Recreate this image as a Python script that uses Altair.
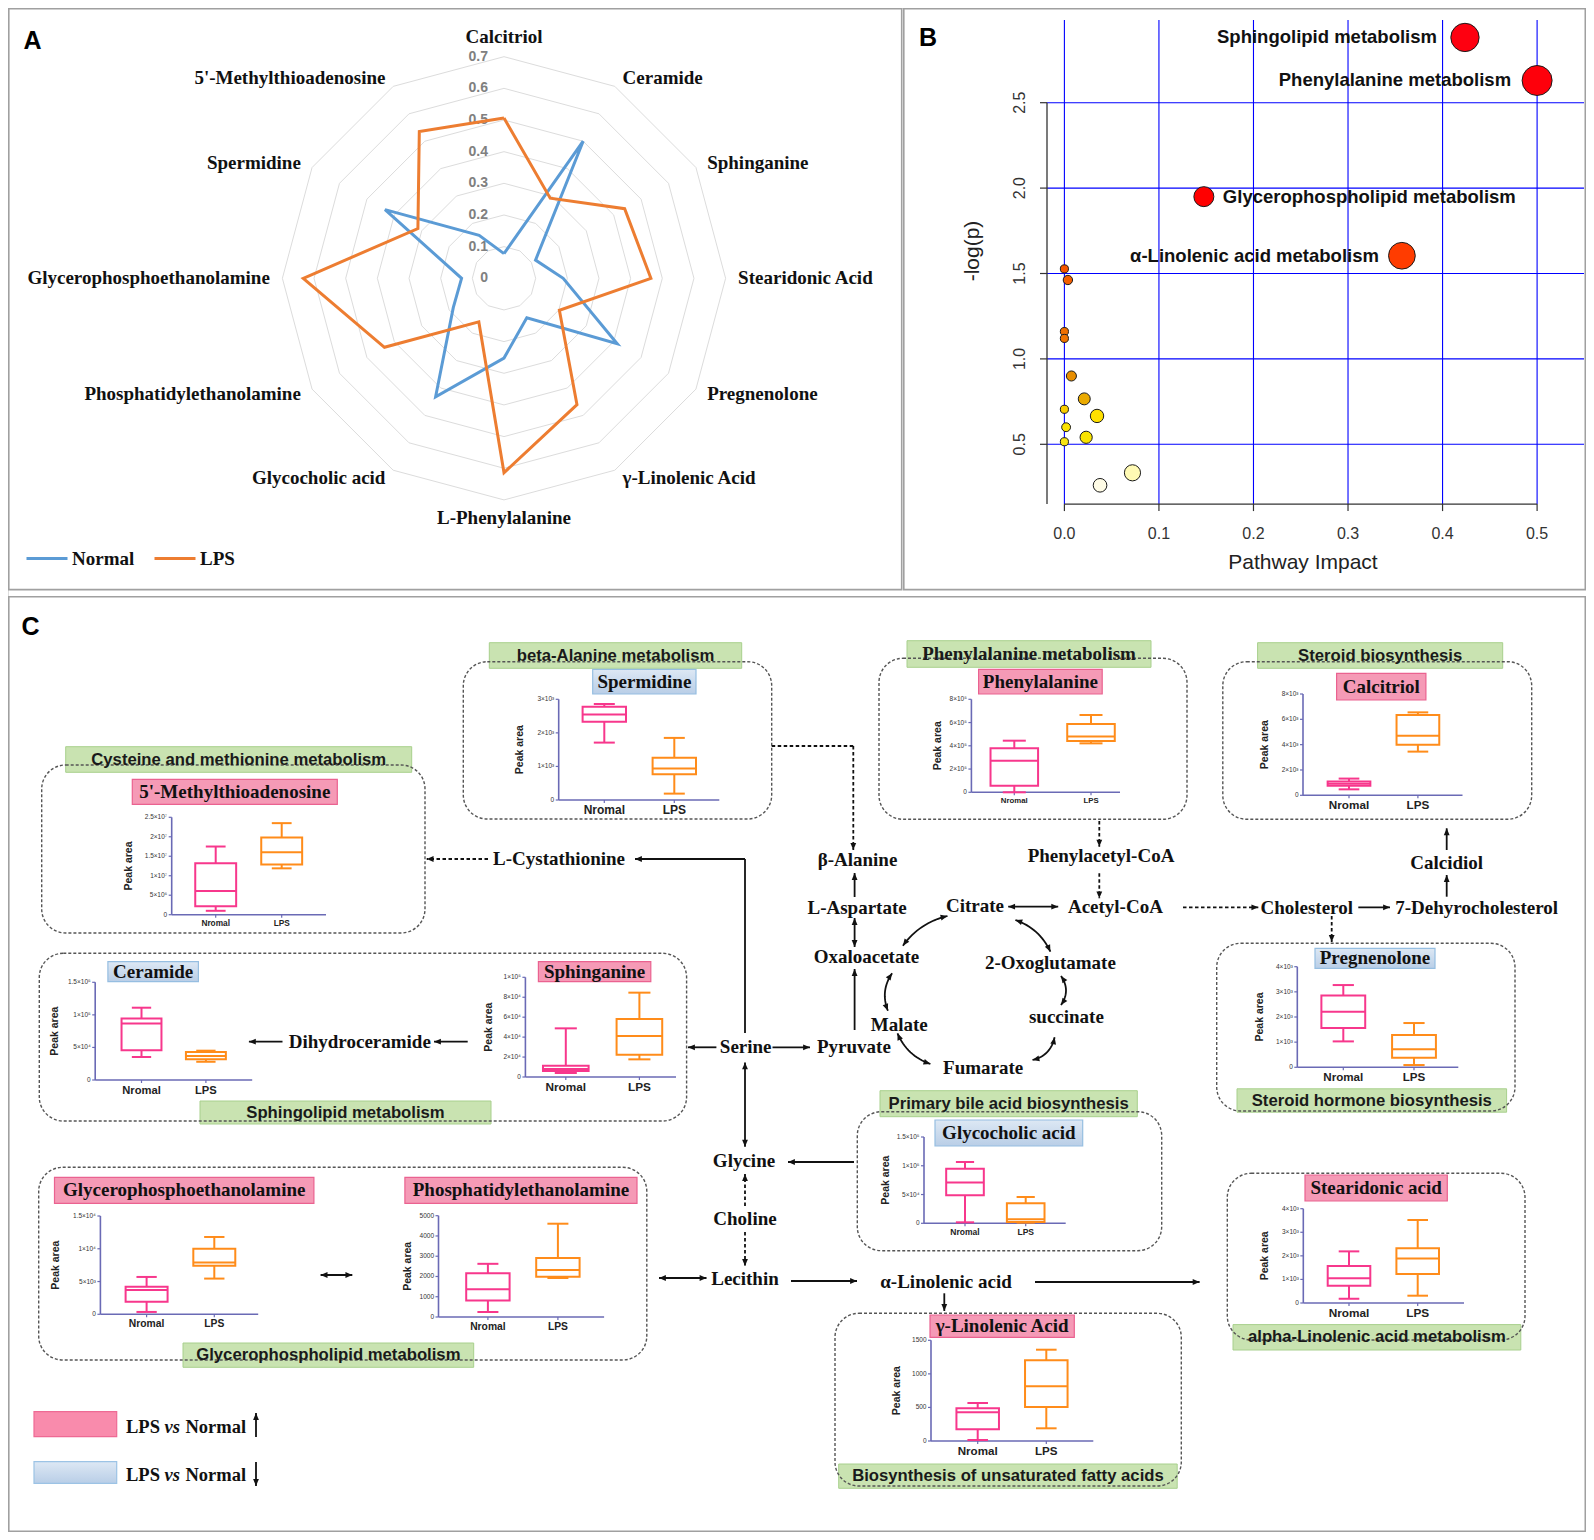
import math
import altair as alt
import pandas as pd

W, H = 1578, 1524
M = 8


def C(v):
    return v - M


SERIF = "Liberation Serif"
SANS = "Liberation Sans"
BLUE = "#5B9BD5"
ORANGE = "#ED7D31"
PINK_LINE = "#F7378C"
ORANGE_LINE = "#FF8C1A"
AXC = "#6A6AB5"

# ================= Panel A : radar data =================
RADAR_METABOLITES = ["Calcitriol", "Ceramide", "Sphinganine", "Stearidonic Acid",
                     "Pregnenolone", "γ-Linolenic Acid", "L-Phenylalanine",
                     "Glycocholic acid", "Phosphatidylethanolamine",
                     "Glycerophosphoethanolamine", "Spermidine",
                     "5'-Methylthioadenosine"]
RADAR_NORMAL = [0.078, 0.50, 0.115, 0.187, 0.413, 0.144, 0.252, 0.432, 0.185, 0.134, 0.434, 0.157]
RADAR_LPS = [0.506, 0.292, 0.44, 0.464, 0.202, 0.461, 0.614, 0.159, 0.436, 0.634, 0.314, 0.535]
RADAR_SERIES = ["Normal", "LPS"]
RADAR_TICKS = [0, 0.1, 0.2, 0.3, 0.4, 0.5, 0.6, 0.7]
RADAR_TICK_LABELS = ["0", "0.1", "0.2", "0.3", "0.4", "0.5", "0.6", "0.7"]

# ================= Panel B : pathway data =================
PATHWAY_NAMES = ["Sphingolipid metabolism", "Phenylalanine metabolism",
                 "Glycerophospholipid metabolism", "α-Linolenic acid metabolism",
                 "", "", "", "", "", "", "", "", "", "", "", "", ""]
PATHWAY_IMPACT = [0.4237, 0.50, 0.1475, 0.357, 0.0, 0.0037, 0.0, 0.0, 0.0074, 0.021,
                  0.0345, 0.0, 0.0018, 0.023, 0.0, 0.072, 0.0377]
PATHWAY_LOGP = [2.882, 2.63, 1.95, 1.604, 1.527, 1.462, 1.16, 1.12, 0.90, 0.766,
                0.666, 0.705, 0.60, 0.541, 0.515, 0.333, 0.26]
B_X_TICKS = [0.0, 0.1, 0.2, 0.3, 0.4, 0.5]
B_X_TICK_LABELS = ["0.0", "0.1", "0.2", "0.3", "0.4", "0.5"]
B_Y_TICKS = [0.5, 1.0, 1.5, 2.0, 2.5]
B_Y_TICK_LABELS = ["0.5", "1.0", "1.5", "2.0", "2.5"]

# ================= Panel C : box-plot data (min, Q1, median, Q3, max) =================
GROUPS = ["Nromal", "LPS"]

MTA_NORMAL = [0.10e7, 0.22e7, 0.61e7, 1.32e7, 1.75e7]
MTA_LPS = [1.19e7, 1.29e7, 1.60e7, 1.98e7, 2.35e7]
MTA_TICKS = [0, 0.5e7, 1.0e7, 1.5e7, 2.0e7, 2.5e7]
MTA_TICK_LABELS = ["0", "5×10⁶", "1×10⁷", "1.5×10⁷", "2×10⁷", "2.5×10⁷"]

SPD_NORMAL = [1.71e3, 2.33e3, 2.55e3, 2.78e3, 2.86e3]
SPD_LPS = [0.19e3, 0.77e3, 0.94e3, 1.26e3, 1.85e3]
SPD_TICKS = [0, 1e3, 2e3, 3e3]
SPD_TICK_LABELS = ["0", "1×10³", "2×10³", "3×10³"]

PHE_NORMAL = [0.0, 0.57e5, 2.72e5, 3.78e5, 4.44e5]
PHE_LPS = [4.21e5, 4.41e5, 4.79e5, 5.87e5, 6.65e5]
PHE_TICKS = [0, 2e5, 4e5, 6e5, 8e5]
PHE_TICK_LABELS = ["0", "2×10⁵", "4×10⁵", "6×10⁵", "8×10⁵"]

CAL_NORMAL = [0.47e3, 0.76e3, 0.92e3, 1.08e3, 1.32e3]
CAL_LPS = [3.45e3, 4.00e3, 4.71e3, 6.34e3, 6.55e3]
CAL_TICKS = [0, 2e3, 4e3, 6e3, 8e3]
CAL_TICK_LABELS = ["0", "2×10³", "4×10³", "6×10³", "8×10³"]

CER_NORMAL = [0.353e5, 0.456e5, 0.866e5, 0.944e5, 1.11e5]
CER_LPS = [0.28e5, 0.317e5, 0.37e5, 0.43e5, 0.45e5]
CER_TICKS = [0, 0.5e5, 1.0e5, 1.5e5]
CER_TICK_LABELS = ["0", "5×10⁴", "1×10⁵", "1.5×10⁵"]

SPH_NORMAL = [0.40e4, 0.60e4, 0.80e4, 1.14e4, 4.88e4]
SPH_LPS = [1.77e4, 2.24e4, 4.11e4, 5.82e4, 8.46e4]
SPH_TICKS = [0, 2e4, 4e4, 6e4, 8e4, 10e4]
SPH_TICK_LABELS = ["0", "2×10⁴", "4×10⁴", "6×10⁴", "8×10⁴", "1×10⁵"]

PRE_NORMAL = [1.03e3, 1.56e3, 2.21e3, 2.85e3, 3.27e3]
PRE_LPS = [0.09e3, 0.38e3, 0.72e3, 1.28e3, 1.76e3]
PRE_TICKS = [0, 1e3, 2e3, 3e3, 4e3]
PRE_TICK_LABELS = ["0", "1×10³", "2×10³", "3×10³", "4×10³"]

GPE_NORMAL = [0.036e4, 0.19e4, 0.37e4, 0.42e4, 0.57e4]
GPE_LPS = [0.545e4, 0.74e4, 0.79e4, 1.0e4, 1.18e4]
GPE_TICKS = [0, 0.5e4, 1.0e4, 1.5e4]
GPE_TICK_LABELS = ["0", "5×10³", "1×10⁴", "1.5×10⁴"]

PE_NORMAL = [247, 816, 1375, 2164, 2625]
PE_LPS = [1924, 1990, 2319, 2911, 4605]
PE_TICKS = [0, 1000, 2000, 3000, 4000, 5000]
PE_TICK_LABELS = ["0", "1000", "2000", "3000", "4000", "5000"]

GCA_NORMAL = [0.017e5, 0.486e5, 0.71e5, 0.95e5, 1.065e5]
GCA_LPS = [0.012e5, 0.023e5, 0.07e5, 0.347e5, 0.457e5]
GCA_TICKS = [0, 0.5e5, 1.0e5, 1.5e5]
GCA_TICK_LABELS = ["0", "5×10⁴", "1×10⁵", "1.5×10⁵"]

GLA_NORMAL = [15, 174, 427, 487, 566]
GLA_LPS = [189, 506, 814, 1202, 1360]
GLA_TICKS = [0, 500, 1000, 1500]
GLA_TICK_LABELS = ["0", "500", "1000", "1500"]

SDA_NORMAL = [0.18e3, 0.735e3, 1.05e3, 1.57e3, 2.19e3]
SDA_LPS = [0.31e3, 1.23e3, 1.89e3, 2.32e3, 3.52e3]
SDA_TICKS = [0, 1e3, 2e3, 3e3, 4e3]
SDA_TICK_LABELS = ["0", "1×10³", "2×10³", "3×10³", "4×10³"]

# ================= layout (reference pixel positions) =================
BOX_LAYOUT = [
    (MTA_NORMAL, MTA_LPS, MTA_TICKS, MTA_TICK_LABELS, dict(ax=171.7, right=326, ytop=817.3, ybot=914.7, nor=215.7, lps=281.7, cat=8.3, tx=-43)),
    (SPD_NORMAL, SPD_LPS, SPD_TICKS, SPD_TICK_LABELS, dict(ax=558.7, right=719.3, ytop=699.3, ybot=800, nor=604.3, lps=674.3, cat=12, tx=-38.7)),
    (PHE_NORMAL, PHE_LPS, PHE_TICKS, PHE_TICK_LABELS, dict(ax=971.4, right=1120, ytop=699.3, ybot=792.3, nor=1014.3, lps=1091, cat=7.8, tx=-33.4)),
    (CAL_NORMAL, CAL_LPS, CAL_TICKS, CAL_TICK_LABELS, dict(ax=1303, right=1462.5, ytop=694, ybot=795.3, nor=1349, lps=1417.9, cat=11.7, tx=-38)),
    (CER_NORMAL, CER_LPS, CER_TICKS, CER_TICK_LABELS, dict(ax=95.2, right=252.2, ytop=982.3, ybot=1080, nor=141.5, lps=205.9, cat=11.2, tx=-40)),
    (SPH_NORMAL, SPH_LPS, SPH_TICKS, SPH_TICK_LABELS, dict(ax=525.4, right=676, ytop=977.3, ybot=1077, nor=565.8, lps=639.4, cat=11.8, tx=-36.6)),
    (PRE_NORMAL, PRE_LPS, PRE_TICKS, PRE_TICK_LABELS, dict(ax=1297.3, right=1458.3, ytop=966.7, ybot=1067.3, nor=1343.3, lps=1414, cat=11.6, tx=-37.3)),
    (GPE_NORMAL, GPE_LPS, GPE_TICKS, GPE_TICK_LABELS, dict(ax=100.4, right=258.2, ytop=1216, ybot=1314.3, nor=146.6, lps=214.3, cat=10.3, tx=-44.7)),
    (PE_NORMAL, PE_LPS, PE_TICKS, PE_TICK_LABELS, dict(ax=438.5, right=604.1, ytop=1215.7, ybot=1317, nor=487.9, lps=557.9, cat=10.3, tx=-31)),
    (GCA_NORMAL, GCA_LPS, GCA_TICKS, GCA_TICK_LABELS, dict(ax=924, right=1065.7, ytop=1137, ybot=1223.3, nor=965, lps=1025.7, cat=8.5, tx=-38)),
    (GLA_NORMAL, GLA_LPS, GLA_TICKS, GLA_TICK_LABELS, dict(ax=931, right=1093.3, ytop=1340.3, ybot=1441, nor=977.7, lps=1046.3, cat=11.6, tx=-34.3)),
    (SDA_NORMAL, SDA_LPS, SDA_TICKS, SDA_TICK_LABELS, dict(ax=1303.3, right=1464, ytop=1208.7, ybot=1303, nor=1349, lps=1417.7, cat=11.8, tx=-38.3)),
]
BOX_HALF = 0.31
CAP_HALF = 0.15

# ---------- canvas helpers ----------
cx = alt.Scale(domain=[M, M + W], range=[0, W], nice=False, zero=False)
cy = alt.Scale(domain=[M, M + H], range=[0, H], nice=False, zero=False)


def XC(f):
    return alt.X(f + ":Q", scale=cx, axis=None)


def YC(f):
    return alt.Y(f + ":Q", scale=cy, axis=None)


def rect_layer(rows, **mark):
    df = pd.DataFrame(rows, columns=["x1", "y1", "x2", "y2"])
    return alt.Chart(df).mark_rect(**mark).encode(x=XC("x1"), x2="x2:Q", y=YC("y1"), y2="y2:Q")


def text_layer(rows, **mark):
    df = pd.DataFrame(rows, columns=["t", "x", "y"])
    return alt.Chart(df).mark_text(**mark).encode(x=XC("x"), y=YC("y"), text="t:N")


ARROW = "M0,0L-0.42,1L0.42,1Z"


def heading(x1, y1, x2, y2):
    return math.degrees(math.atan2(x2 - x1, -(y2 - y1))) % 360


def seg_parts(segs):
    lines, heads = [], []
    for (x1, y1, x2, y2, h) in segs:
        lines.append(dict(x1=x1, y1=y1, x2=x2, y2=y2))
        if h in ("end", "both"):
            heads.append(dict(x=x2, y=y2, ang=heading(x1, y1, x2, y2)))
        if h == "both":
            heads.append(dict(x=x1, y=y1, ang=heading(x2, y2, x1, y1)))
    return pd.DataFrame(lines), heads


# ---------- generic scale-driven axis pieces ----------
def vrule(df, xs, ys, xf, y1, y2, **mark):
    return alt.Chart(df).mark_rule(**mark).encode(
        x=alt.X(xf + ":Q", scale=xs, axis=None), y=alt.Y(y1 + ":Q", scale=ys, axis=None), y2=y2 + ":Q")


def hrule(df, xs, ys, x1, x2, yf, **mark):
    return alt.Chart(df).mark_rule(**mark).encode(
        x=alt.X(x1 + ":Q", scale=xs, axis=None), x2=x2 + ":Q", y=alt.Y(yf + ":Q", scale=ys, axis=None))


def tlayer(df, xs, ys, xf, yf, tf, **mark):
    return alt.Chart(df).mark_text(**mark).encode(
        x=alt.X(xf + ":Q", scale=xs, axis=None), y=alt.Y(yf + ":Q", scale=ys, axis=None), text=tf + ":N")


# ================= canvas background elements =================
canvas_layers = []

PANEL_BORDERS = [(8.8, 8.8, 901.7, 589.6), (903.8, 8.8, 1585.3, 589.6), (8.8, 596.7, 1585.3, 1531.3)]
canvas_layers.append(rect_layer(PANEL_BORDERS, fillOpacity=0, stroke="#A0A0A0", strokeWidth=1.6))

PANEL_LETTERS = [("A", 32.5, 40.7), ("B", 928, 37.6), ("C", 30.5, 627)]
canvas_layers.append(text_layer(PANEL_LETTERS, font=SANS, fontWeight="bold", fontSize=25,
                                color="black", align="center", baseline="middle"))

GREEN_SANS = [
    ("Cysteine and methionine metabolism", 65.7, 746.7, 411.7, 772.3),
    ("beta-Alanine metabolism", 489.3, 642.7, 741.7, 668.3),
    ("Steroid biosynthesis", 1257.6, 642.7, 1502.7, 668.3),
    ("Sphingolipid metabolism", 200, 1101, 491, 1124),
    ("Steroid hormone biosynthesis", 1237, 1088.8, 1506.6, 1112.2),
    ("Glycerophospholipid metabolism", 183, 1343, 473.7, 1367.3),
    ("Primary bile acid biosynthesis", 880, 1090.7, 1137.3, 1116.7),
    ("Biosynthesis of unsaturated fatty acids", 838.7, 1464, 1177.2, 1488.3),
    ("alpha-Linolenic acid metabolism", 1233, 1324.6, 1520.8, 1350),
]
GREEN_SERIF = [("Phenylalanine metabolism", 907, 640.7, 1151, 667.3)]
PINK_LABELS = [
    ("5'-Methylthioadenosine", 132.3, 779.3, 337.3, 804.3),
    ("Phenylalanine", 978.6, 669.3, 1102.2, 694),
    ("Calcitriol", 1336.6, 673.3, 1425.9, 700),
    ("Sphinganine", 538.4, 961.7, 650.8, 981.7),
    ("Glycerophosphoethanolamine", 54.5, 1177.3, 313.9, 1203.3),
    ("Phosphatidylethanolamine", 404.9, 1177.3, 637, 1203.3),
    ("γ-Linolenic Acid", 930, 1315, 1074.3, 1337.3),
    ("Stearidonic acid", 1305, 1175, 1447.3, 1201),
]
BLUE_LABELS = [
    ("Spermidine", 592.7, 669.3, 696, 694),
    ("Ceramide", 107.9, 961.7, 198.4, 981.7),
    ("Pregnenolone", 1315, 948.3, 1435, 968.3),
    ("Glycocholic acid", 935, 1120, 1082.7, 1146),
]
DASHED_BOXES = [
    (41.7, 765, 425, 933), (463.3, 661.7, 771.7, 819), (879, 658.3, 1187, 819.3),
    (1222.8, 661.7, 1531.7, 819.3), (39.3, 953.3, 686.6, 1121), (1216.7, 943.3, 1515, 1111),
    (38.7, 1167.3, 646.8, 1360), (857.3, 1111.7, 1161.7, 1250.7), (835, 1313.3, 1181.3, 1486),
    (1227.3, 1173.3, 1525, 1340),
]

blue_grad = alt.Gradient(gradient="linear", x1=0, y1=0, x2=0, y2=1,
                         stops=[alt.GradientStop(color="#DDE8F4", offset=0),
                                alt.GradientStop(color="#B9CEE7", offset=1)])

green_rows = [r[1:] for r in GREEN_SANS + GREEN_SERIF]
canvas_layers.append(rect_layer(green_rows, fill="#C9E3B1", stroke="#A8D08D", strokeWidth=1))
canvas_layers.append(rect_layer([r[1:] for r in PINK_LABELS], fill="#F59AB6", stroke="#EA6290", strokeWidth=1.2))
canvas_layers.append(rect_layer([r[1:] for r in BLUE_LABELS], fill=blue_grad, stroke="#96BEE1", strokeWidth=1.2))
canvas_layers.append(rect_layer(DASHED_BOXES, fillOpacity=0, stroke="#555555", strokeWidth=1.4,
                                strokeDash=[3, 2], cornerRadius=24))


def centers(rows):
    return [(t, (a + c) / 2, (b + d) / 2) for (t, a, b, c, d) in rows]


canvas_layers.append(text_layer(centers(GREEN_SANS), font=SANS, fontWeight="bold", fontSize=16.7,
                                color="#1a1a1a", align="center", baseline="middle"))
canvas_layers.append(text_layer(centers(GREEN_SERIF), font=SERIF, fontWeight="bold", fontSize=19,
                                color="#1a1a1a", align="center", baseline="middle"))
canvas_layers.append(text_layer(centers(PINK_LABELS + BLUE_LABELS), font=SERIF, fontWeight="bold", fontSize=19,
                                color="#111111", align="center", baseline="middle"))

NODES = [
    ("L-Cystathionine", 559, 859), ("β-Alanine", 857.5, 860), ("Phenylacetyl-CoA", 1101, 856),
    ("Calcidiol", 1446.7, 862.7), ("L-Aspartate", 857.1, 908.3), ("Citrate", 975, 906),
    ("Acetyl-CoA", 1115.4, 907.3), ("Cholesterol", 1306.7, 908.3), ("7-Dehyrocholesterol", 1476.7, 908.3),
    ("Oxaloacetate", 866.4, 957.3), ("2-Oxoglutamate", 1050.4, 963.3), ("Malate", 899.3, 1025),
    ("succinate", 1066.4, 1017.3), ("Dihydroceramide", 359.8, 1041.7), ("Serine", 745.7, 1047.3),
    ("Pyruvate", 853.9, 1047.3), ("Fumarate", 983.2, 1068.3), ("Glycine", 744, 1161),
    ("Choline", 745, 1219), ("Lecithin", 745, 1279), ("α-Linolenic acid", 946, 1281.7),
]
canvas_layers.append(text_layer(NODES, font=SERIF, fontWeight="bold", fontSize=19,
                                color="#111111", align="center", baseline="middle"))

# legend of panel C
LEGEND_BOXES_PINK = [(34, 1411.7, 116.7, 1436.7)]
LEGEND_BOXES_BLUE = [(34, 1461.7, 116.7, 1483.3)]
canvas_layers.append(rect_layer(LEGEND_BOXES_PINK, fill="#F98BAC", stroke="#EE6A94", strokeWidth=1.2))
canvas_layers.append(rect_layer(LEGEND_BOXES_BLUE, fill=blue_grad, stroke="#9CC3E5", strokeWidth=1.2))
LEG_PLAIN = [("LPS", 126, 1426.7), ("Normal", 185.5, 1426.7), ("LPS", 126, 1475), ("Normal", 185.5, 1475)]
LEG_ITALIC = [("vs", 164.5, 1426.7), ("vs", 164.5, 1475)]
canvas_layers.append(text_layer(LEG_PLAIN, font=SERIF, fontWeight="bold", fontSize=18.5,
                                color="#111111", align="left", baseline="middle"))
canvas_layers.append(text_layer(LEG_ITALIC, font=SERIF, fontWeight="bold", fontStyle="italic", fontSize=18.5,
                                color="#111111", align="left", baseline="middle"))

# arrows
SOLID = [
    (745, 1033, 745, 859, "none"), (745, 859, 635, 859, "end"),
    (772.5, 1047.3, 810, 1047.3, "end"), (716.4, 1047.3, 688, 1047.3, "end"),
    (854.6, 1030, 854.6, 969, "end"), (854.6, 918, 854.6, 947, "both"),
    (854.6, 897, 854.6, 873, "end"), (1008.2, 906.7, 1058.2, 906.7, "both"),
    (1358.3, 907.3, 1390, 907.3, "end"), (1446.7, 896.7, 1446.7, 875, "end"),
    (1446.7, 850, 1446.7, 828.3, "end"), (282.5, 1041.7, 248.9, 1041.7, "end"),
    (467.7, 1041.7, 434, 1041.7, "end"), (745, 1062.4, 745, 1146.7, "both"),
    (854, 1162, 788, 1162, "end"), (659, 1278, 706.5, 1278, "both"),
    (791, 1281, 857, 1281, "end"), (1035, 1282, 1199.6, 1282, "end"),
    (944.3, 1293.3, 944.3, 1311, "end"), (320.6, 1275, 352.3, 1275, "both"),
    (256, 1437, 256, 1413, "end"), (256, 1462, 256, 1486, "end"),
]
DASHED = [
    (488, 859, 426.7, 859, "end"), (771.7, 746, 853.3, 746, "none"), (853.3, 746, 853.3, 850, "end"),
    (1099.3, 821, 1099.3, 846.7, "end"), (1099.3, 873.3, 1099.3, 898.3, "end"),
    (1183, 907.3, 1258.3, 907.3, "end"), (1331.7, 916, 1331.7, 942, "end"),
    (745, 1206, 745, 1174, "end"), (745, 1232, 745, 1266, "end"),
]
CURVES = [
    ((902.9, 945.7), (947.5, 916)), ((1015.4, 920), (1050.4, 951.7)), ((1061, 976), (1061, 1005)),
    ((1054.6, 1037.3), (1032.5, 1060)), ((930.4, 1064), (897.5, 1033.3)), ((887.9, 1010.7), (892.1, 973.3)),
]
CYCLE_CENTER = (975, 990)

solid_df, heads = seg_parts(SOLID)
dashed_df, heads2 = seg_parts(DASHED)
heads += heads2

curve_rows = []
for ci, (p0, p2) in enumerate(CURVES):
    mx, my = (p0[0] + p2[0]) / 2, (p0[1] + p2[1]) / 2
    dx, dy = p2[0] - p0[0], p2[1] - p0[1]
    Ln = math.hypot(dx, dy)
    nx, ny = -dy / Ln, dx / Ln
    if (mx + nx - CYCLE_CENTER[0]) ** 2 + (my + ny - CYCLE_CENTER[1]) ** 2 < (mx - CYCLE_CENTER[0]) ** 2 + (my - CYCLE_CENTER[1]) ** 2:
        nx, ny = -nx, -ny
    p1 = (mx + nx * 10, my + ny * 10)
    for k in range(17):
        t = k / 16
        curve_rows.append(dict(id=ci, k=k,
                               x=(1 - t) ** 2 * p0[0] + 2 * (1 - t) * t * p1[0] + t * t * p2[0],
                               y=(1 - t) ** 2 * p0[1] + 2 * (1 - t) * t * p1[1] + t * t * p2[1]))
    heads.append(dict(x=p2[0], y=p2[1], ang=heading(p1[0], p1[1], p2[0], p2[1])))
    heads.append(dict(x=p0[0], y=p0[1], ang=heading(p1[0], p1[1], p0[0], p0[1])))

canvas_layers.append(alt.Chart(solid_df).mark_rule(color="#111111", strokeWidth=1.8).encode(
    x=XC("x1"), x2="x2:Q", y=YC("y1"), y2="y2:Q"))
canvas_layers.append(alt.Chart(dashed_df).mark_rule(color="#111111", strokeWidth=1.8, strokeDash=[3.5, 2.5]).encode(
    x=XC("x1"), x2="x2:Q", y=YC("y1"), y2="y2:Q"))
canvas_layers.append(alt.Chart(pd.DataFrame(curve_rows)).mark_line(color="#111111", strokeWidth=1.8).encode(
    x=XC("x"), y=YC("y"), detail="id:N", order="k:Q"))
canvas_layers.append(alt.Chart(pd.DataFrame(heads)).mark_point(
    shape=ARROW, filled=True, size=190, color="#111111", opacity=1, strokeWidth=0).encode(
    x=XC("x"), y=YC("y"), angle=alt.Angle("ang:Q", scale=None)))

canvas = alt.layer(*canvas_layers)

# ================= Panel A : radar =================
RC_X, RC_Y, RUNIT = 504, 278.3, 316.6
rx = alt.Scale(domain=[-1, 1], range=[C(RC_X - RUNIT), C(RC_X + RUNIT)], nice=False, zero=False)
ry = alt.Scale(domain=[-1, 1], range=[C(RC_Y + RUNIT), C(RC_Y - RUNIT)], nice=False, zero=False)


def polar(r, i):
    th = math.radians(30 * i)
    return r * math.sin(th), r * math.cos(th)


ring_rows = []
for t in RADAR_TICKS[1:]:
    for k in range(13):
        x, y = polar(t, k % 12)
        ring_rows.append(dict(ring=t, k=k, x=x, y=y))
rings = alt.Chart(pd.DataFrame(ring_rows)).mark_line(color="#DCDCDC", strokeWidth=1).encode(
    x=alt.X("x:Q", scale=rx, axis=None), y=alt.Y("y:Q", scale=ry, axis=None), detail="ring:N", order="k:Q")

tick_df = pd.DataFrame({"t": RADAR_TICK_LABELS, "x": 0.0, "y": RADAR_TICKS})
ticklabels = tlayer(tick_df, rx, ry, "x", "y", "t", align="right", baseline="middle", dx=-16, font=SANS,
                    fontWeight="bold", fontSize=14, color="#808080")

line_rows = []
for s, vals in zip(RADAR_SERIES, (RADAR_NORMAL, RADAR_LPS)):
    for k in range(13):
        x, y = polar(vals[k % 12], k % 12)
        line_rows.append(dict(series=s, k=k, x=x, y=y))
radar_lines = alt.Chart(pd.DataFrame(line_rows)).mark_line(strokeWidth=3).encode(
    x=alt.X("x:Q", scale=rx, axis=None), y=alt.Y("y:Q", scale=ry, axis=None), order="k:Q",
    color=alt.Color("series:N", scale=alt.Scale(domain=RADAR_SERIES, range=[BLUE, ORANGE]),
                    legend=alt.Legend(orient="none", legendX=C(25), legendY=C(536.5), direction="horizontal",
                                      title=None, symbolType="stroke", symbolSize=1681, symbolStrokeWidth=3,
                                      labelFont=SERIF, labelFontWeight="bold", labelFontSize=19,
                                      labelColor="#111111", labelOffset=3, columnPadding=13, padding=0)))

cat_rows = []
for i, name in enumerate(RADAR_METABOLITES):
    x, y = polar(0.73, i)
    cat_rows.append(dict(t=name, x=x, y=y, i=i))
cat_df = pd.DataFrame(cat_rows)


def cat_layer(sub, **mark):
    return tlayer(sub, rx, ry, "x", "y", "t", font=SERIF, fontWeight="bold", fontSize=19, color="#111111", **mark)


radar = alt.layer(
    rings, ticklabels, radar_lines,
    cat_layer(cat_df[cat_df.i == 0], align="center", baseline="bottom"),
    cat_layer(cat_df[cat_df.i == 6], align="center", baseline="top"),
    cat_layer(cat_df[(cat_df.i > 0) & (cat_df.i < 6)], align="left", baseline="middle", dx=3),
    cat_layer(cat_df[cat_df.i > 6], align="right", baseline="middle", dx=-3),
)

# ================= Panel B : pathway bubble chart =================
B_X0, B_XPX = 1064.4, 945.4     # pixel of impact 0, pixels per impact unit
B_Y25, B_YPX = 102.7, 170.8     # pixel of -log(p)=2.5, pixels per unit
B_YMIN = 0.15
bx = alt.Scale(domain=[0, 0.5], range=[C(B_X0), C(B_X0 + 0.5 * B_XPX)], nice=False, zero=False)
by = alt.Scale(domain=[B_YMIN, 2.5], range=[C(B_Y25 + (2.5 - B_YMIN) * B_YPX), C(B_Y25)], nice=False, zero=False)
bdf = pd.DataFrame({"name": PATHWAY_NAMES, "impact": PATHWAY_IMPACT, "logp": PATHWAY_LOGP})


def bxv(px):
    return (px - B_X0) / B_XPX


def byv(px):
    return 2.5 - (px - B_Y25) / B_YPX


B_YAXIS_X = bxv(1047)
B_TICK = 7
vgrid = pd.DataFrame({"x": B_X_TICKS, "y1": B_YMIN, "y2": byv(20)})
hgrid = pd.DataFrame({"y": B_Y_TICKS, "x1": B_YAXIS_X, "x2": bxv(1584)})
vg = vrule(vgrid, bx, by, "x", "y1", "y2", color="#0000FF", strokeWidth=1.1)
hg = hrule(hgrid, bx, by, "x1", "x2", "y", color="#0000FF", strokeWidth=1.1)

b_xline = hrule(pd.DataFrame({"x1": [0.0], "x2": [0.5], "y": [B_YMIN]}), bx, by, "x1", "x2", "y",
                color="#333333", strokeWidth=1.3)
b_yline = vrule(pd.DataFrame({"x": [B_YAXIS_X], "y1": [B_YMIN], "y2": [2.5]}), bx, by, "x", "y1", "y2",
                color="#333333", strokeWidth=1.3)
bxt = pd.DataFrame({"x": B_X_TICKS, "lab": B_X_TICK_LABELS, "y1": B_YMIN, "y2": B_YMIN - B_TICK / B_YPX,
                    "ly": byv(533.7)})
byt = pd.DataFrame({"y": B_Y_TICKS, "lab": B_Y_TICK_LABELS, "x1": B_YAXIS_X - B_TICK / B_XPX, "x2": B_YAXIS_X,
                    "lx": bxv(1019.6)})
b_xticks = vrule(bxt, bx, by, "x", "y1", "y2", color="#333333", strokeWidth=1.2)
b_yticks = hrule(byt, bx, by, "x1", "x2", "y", color="#333333", strokeWidth=1.2)
b_xlabels = tlayer(bxt, bx, by, "x", "ly", "lab", font=SANS, fontSize=16, color="#333333",
                   align="center", baseline="middle")
b_ylabels = tlayer(byt, bx, by, "lx", "y", "lab", font=SANS, fontSize=16, color="#333333",
                   align="center", baseline="middle", angle=270)
btitles = pd.DataFrame({"t": ["Pathway Impact", "-log(p)"], "x": [bxv(1303), bxv(973)], "y": [byv(563), byv(251)]})
b_xtitle = tlayer(btitles.iloc[[0]], bx, by, "x", "y", "t", font=SANS, fontSize=21, color="#222222",
                  align="center", baseline="middle")
b_ytitle = tlayer(btitles.iloc[[1]], bx, by, "x", "y", "t", font=SANS, fontSize=21, color="#222222",
                  align="center", baseline="middle", angle=270)

points = alt.Chart(bdf).mark_circle(stroke="#1a1a1a", strokeWidth=1, opacity=1).encode(
    x=alt.X("impact:Q", scale=bx, axis=None),
    y=alt.Y("logp:Q", scale=by, axis=None),
    size=alt.Size("impact:Q", scale=alt.Scale(type="pow", exponent=0.75, domain=[0, 0.5], range=[66, 900]), legend=None),
    color=alt.Color("logp:Q", scale=alt.Scale(
        domain=[0.26, 0.333, 0.52, 0.67, 0.77, 0.90, 1.14, 1.50, 1.60, 1.95],
        range=["#FFFCE6", "#FFFAB4", "#F8E400", "#FFE000", "#E9A800", "#E88E00", "#EE7000", "#F25C00", "#FF3C00", "#FF0000"]),
        legend=None),
    order=alt.Order("impact:Q"))

B_LABEL_STYLE = [("Sphingolipid metabolism", "right", -28), ("Phenylalanine metabolism", "right", -26),
                 ("Glycerophospholipid metabolism", "left", 19), ("α-Linolenic acid metabolism", "right", -23)]
blabels = []
for nm, al, ddx in B_LABEL_STYLE:
    blabels.append(tlayer(bdf[bdf.name == nm], bx, by, "impact", "logp", "name",
                          align=al, baseline="middle", dx=ddx, font=SANS, fontWeight="bold",
                          fontSize=18.5, color="#111111"))

bubble = alt.layer(vg, hg, b_xline, b_yline, b_xticks, b_yticks, b_xlabels, b_ylabels, b_xtitle, b_ytitle,
                   points, *blabels)

# ================= Panel C : box plots =================


def box_plot(normal, lps, ticks, labels, L):
    u = L["lps"] - L["nor"]                       # pixels per category step
    pyu = (L["ybot"] - L["ytop"]) / ticks[-1]      # pixels per value unit
    a = (L["ax"] - L["nor"]) / u
    b = (L["right"] - L["nor"]) / u
    xs = alt.Scale(domain=[a, b], range=[C(L["ax"]), C(L["right"])], nice=False, zero=False)
    ys = alt.Scale(domain=[0, ticks[-1]], range=[C(L["ybot"]), C(L["ytop"])], nice=False, zero=False)
    df = pd.DataFrame({"grp": GROUPS, "pos": [0, 1],
                       "lo": [normal[0], lps[0]], "q1": [normal[1], lps[1]], "med": [normal[2], lps[2]],
                       "q3": [normal[3], lps[3]], "hi": [normal[4], lps[4]]})
    cscale = alt.Scale(domain=GROUPS, range=[PINK_LINE, ORANGE_LINE])
    col = alt.Color("grp:N", scale=cscale, legend=None)
    base = alt.Chart(df)
    whisk = base.mark_rule(strokeWidth=2).encode(
        x=alt.X("pos:Q", scale=xs, axis=None),
        y=alt.Y("lo:Q", scale=ys, axis=None), y2="hi:Q", color=col)
    box = base.transform_calculate(a=f"datum.pos - {BOX_HALF}", b=f"datum.pos + {BOX_HALF}").mark_rect(
        fill="white", strokeWidth=2).encode(
        x=alt.X("a:Q", scale=xs, axis=None), x2="b:Q",
        y=alt.Y("q1:Q", scale=ys, axis=None), y2="q3:Q",
        stroke=alt.Stroke("grp:N", scale=cscale, legend=None))
    caps = base.transform_fold(["lo", "hi"], as_=["stat", "v"]).transform_calculate(
        a=f"datum.pos - {CAP_HALF}", b=f"datum.pos + {CAP_HALF}").mark_rule(strokeWidth=2).encode(
        x=alt.X("a:Q", scale=xs, axis=None), x2="b:Q", y=alt.Y("v:Q", scale=ys, axis=None), color=col)
    med = base.transform_calculate(a=f"datum.pos - {BOX_HALF}", b=f"datum.pos + {BOX_HALF}").mark_rule(
        strokeWidth=2).encode(
        x=alt.X("a:Q", scale=xs, axis=None), x2="b:Q", y=alt.Y("med:Q", scale=ys, axis=None), color=col)

    # axes drawn from the tick lists through the plot's own scales
    yax = vrule(pd.DataFrame({"x": [a], "y1": [0], "y2": [ticks[-1]]}), xs, ys, "x", "y1", "y2",
                color=AXC, strokeWidth=1.6)
    xax = hrule(pd.DataFrame({"x1": [a], "x2": [b], "y": [0]}), xs, ys, "x1", "x2", "y",
                color=AXC, strokeWidth=1.6)
    ytk = pd.DataFrame({"v": ticks, "lab": labels, "x1": a - 3 / u, "x2": a})
    xtk = pd.DataFrame({"pos": [0, 1], "lab": GROUPS, "y0": 0.0, "y1": -3 / pyu})
    yticks = hrule(ytk, xs, ys, "x1", "x2", "v", color=AXC, strokeWidth=1.2)
    ylabs = tlayer(ytk, xs, ys, "x1", "v", "lab", font=SANS, fontSize=6.5, color="#333333",
                   align="right", baseline="middle", dx=-1.5)
    xticks = vrule(xtk, xs, ys, "pos", "y0", "y1", color=AXC, strokeWidth=1.2)
    xlabs = tlayer(xtk, xs, ys, "pos", "y1", "lab", font=SANS, fontSize=L["cat"], fontWeight="bold",
                   color="#222222", align="center", baseline="top", dy=1.5)
    ttl = tlayer(pd.DataFrame({"t": ["Peak area"], "x": [a + L["tx"] / u], "y": [ticks[-1] / 2]}), xs, ys,
                 "x", "y", "t", font=SANS, fontSize=10.5, fontWeight="bold", color="#222222",
                 align="center", baseline="middle", angle=270)
    return alt.layer(yax, xax, yticks, ylabs, xticks, xlabs, ttl, whisk, box, caps, med)


boxes = [box_plot(*bp) for bp in BOX_LAYOUT]

chart = alt.layer(canvas, radar, bubble, *boxes).resolve_scale(
    x="independent", y="independent", color="independent", size="independent"
).properties(
    width=W, height=H, autosize=alt.AutoSizeParams(type="none"), padding=0
).configure_view(strokeWidth=0).configure(background="white")

chart.save("out.html", embed_options={"renderer": "svg", "actions": False})
